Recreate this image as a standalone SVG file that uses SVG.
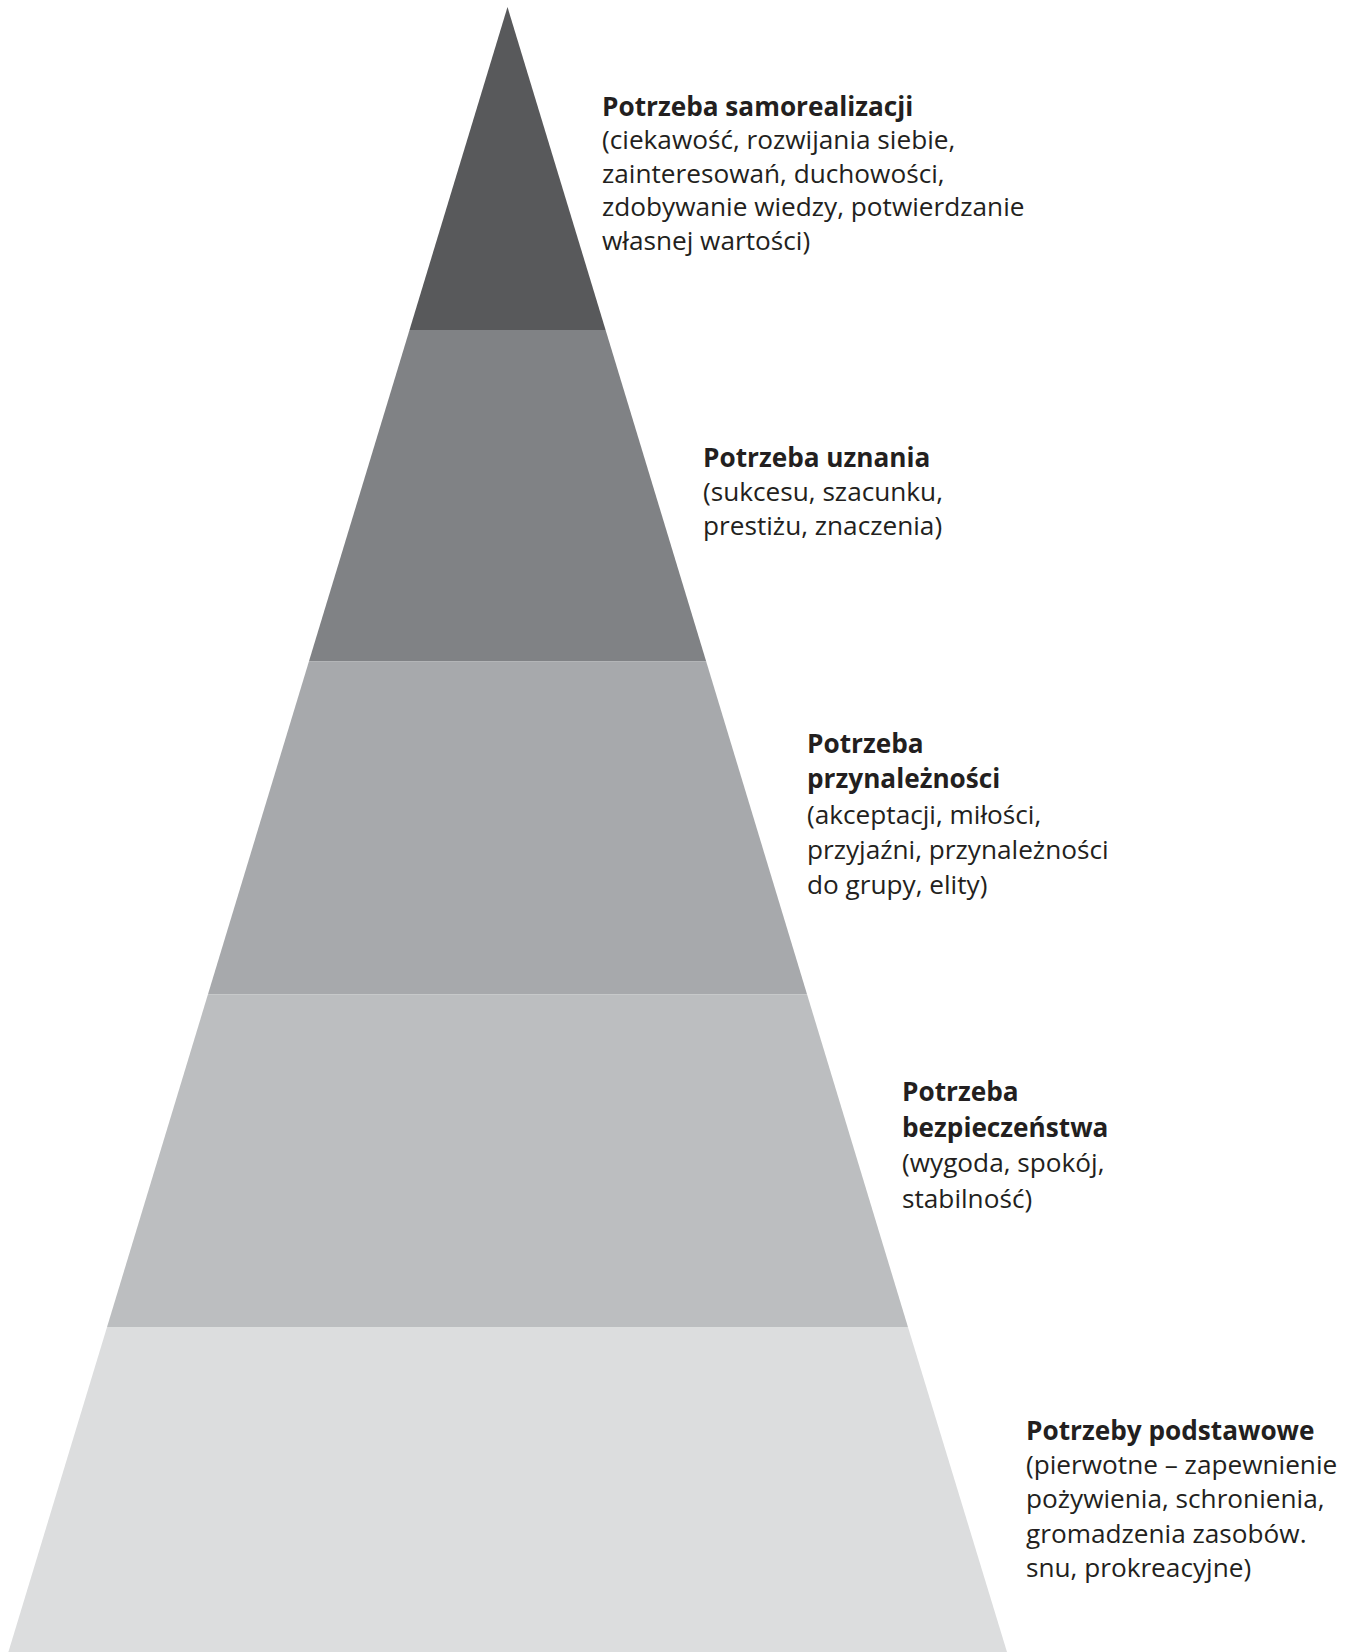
<svg xmlns="http://www.w3.org/2000/svg" width="1363" height="1652" viewBox="0 0 1363 1652">
<style>
text{font-family:"Open Sans","Noto Sans","Liberation Sans",sans-serif;font-size:26.2px;fill:#231f20}
.b{font-weight:bold}
</style>
<rect width="1363" height="1652" fill="#ffffff"/>
<g id="level1">
<polygon points="507.5,7 605.6,330 409.5,330" fill="#58595b"/>
<text x="602" y="116"><tspan class="b">Potrzeba samorealizacji</tspan><tspan x="602" dy="33.4">(ciekawość, rozwijania siebie,</tspan><tspan x="602" dy="33.4">zainteresowań, duchowości,</tspan><tspan x="602" dy="33.4">zdobywanie wiedzy, potwierdzanie</tspan><tspan x="602" dy="33.4">własnej wartości)</tspan></text>
</g>
<g id="level2">
<polygon points="409.5,330 605.6,330 706.2,661.5 308.9,661.5" fill="#808285"/>
<text x="703" y="467"><tspan class="b">Potrzeba uznania</tspan><tspan x="703" dy="34.2">(sukcesu, szacunku,</tspan><tspan x="703" dy="34.2">prestiżu, znaczenia)</tspan></text>
</g>
<g id="level3">
<polygon points="308.9,661.5 706.2,661.5 807.1,994.5 207.9,994.5" fill="#a7a9ac"/>
<text x="807" y="753"><tspan class="b">Potrzeba</tspan><tspan x="807" dy="35.3" class="b">przynależności</tspan><tspan x="807" dy="35.3">(akceptacji, miłości,</tspan><tspan x="807" dy="35.3">przyjaźni, przynależności</tspan><tspan x="807" dy="35.3">do grupy, elity)</tspan></text>
</g>
<g id="level4">
<polygon points="207.9,994.5 807.1,994.5 908.1,1327.5 106.9,1327.5" fill="#bcbec0"/>
<text x="902" y="1101"><tspan class="b">Potrzeba</tspan><tspan x="902" dy="35.5" class="b">bezpieczeństwa</tspan><tspan x="902" dy="35.5">(wygoda, spokój,</tspan><tspan x="902" dy="35.5">stabilność)</tspan></text>
</g>
<g id="level5">
<polygon points="106.9,1327.5 908.1,1327.5 1007,1652 8.4,1652" fill="#dcddde"/>
<text x="1026" y="1440"><tspan class="b">Potrzeby podstawowe</tspan><tspan x="1026" dy="34.2">(pierwotne – zapewnienie</tspan><tspan x="1026" dy="34.2">pożywienia, schronienia,</tspan><tspan x="1026" dy="34.2">gromadzenia zasobów.</tspan><tspan x="1026" dy="34.2">snu, prokreacyjne)</tspan></text>
</g>
<g id="connectors"/>
</svg>
